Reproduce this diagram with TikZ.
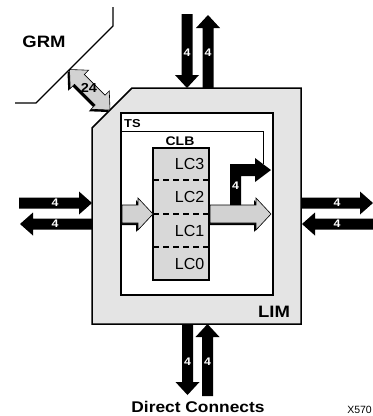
\documentclass[tikz,border=0pt]{standalone}
\usepackage{fontspec}
\setmainfont{Liberation Sans}[BoldFeatures={FakeStretch=1.12}]
\usetikzlibrary{calc}
\definecolor{limfill}{HTML}{E4E4E4}
\definecolor{clbfill}{HTML}{D8D8D8}
\definecolor{arrfill}{HTML}{D2D2D2}
\newcommand\fatarrow[6]{% style, tail, tip, shaft half, head half, head length
  \coordinate (fab) at ($(#3)!#6!(#2)$);
  \path[#1] ($(#2)!#4!90:(#3)$) -- ($(fab)!#4!90:(#3)$) -- ($(fab)!#5!90:(#3)$)
    -- (#3) -- ($(fab)!#5!-90:(#3)$) -- ($(fab)!#4!-90:(#3)$) -- ($(#2)!#4!-90:(#3)$) -- cycle;}
\newcommand\dblfatarrow[6]{% style, end A, end B, shaft half, head half, head length
  \coordinate (dfa) at ($(#2)!#6!(#3)$);
  \coordinate (dfb) at ($(#3)!#6!(#2)$);
  \path[#1] (#2) -- ($(dfa)!#5!90:(#3)$) -- ($(dfa)!#4!90:(#3)$) -- ($(dfb)!#4!-90:(#2)$)
    -- ($(dfb)!#5!-90:(#2)$) -- (#3) -- ($(dfb)!#5!90:(#2)$) -- ($(dfb)!#4!90:(#2)$)
    -- ($(dfa)!#4!-90:(#3)$) -- ($(dfa)!#5!-90:(#3)$) -- cycle;}
\tikzset{
  blackarrow/.style={fill=black},
  grayarrow/.style={fill=arrfill, draw=black, line width=0.6pt, line join=miter},
  shadowarrow/.style={fill=black, transform canvas={shift={(-2pt,-2pt)}}},
  num/.style={text=white, font=\bfseries\fontsize{11}{11}\selectfont, inner sep=0pt},
  lclabel/.style={font=\fontsize{16}{16}\selectfont, anchor=east, inner sep=0pt},
  boldlabel/.style={font=\bfseries\fontsize{#1}{#1}\selectfont, inner sep=0pt},
}
\begin{document}
\begin{tikzpicture}[x=1pt,y=-1pt]
\useasboundingbox (0,0) rectangle (373,416);
% GRM boundary
\draw[line width=1.4pt] (15,103) -- (36,103) -- (113,26) -- (113,7);
\node[boldlabel=16.5] (grm) at (44,42) {GRM};
% LIM
\draw[fill=limfill, line width=1.5pt] (132,88) -- (301,88) -- (301,324) -- (92,324) -- (92,128) -- cycle;
\node[boldlabel=16.5] (lim) at (274,312) {LIM};
% TS
\draw[fill=white, line width=1.4pt] (121,113) rectangle (273,295);
\node[boldlabel=11.5, anchor=west] (ts) at (124,124) {TS};
\draw[line width=0.7pt] (121,131) -- (263,131) -- (263,164);
% CLB
\node[boldlabel=12.5] (clblabel) at (180,141) {CLB};
\draw[fill=clbfill, line width=1.2pt] (153,148) rectangle (209,280);
\foreach \y in {180,214,247} \draw[line width=1.6pt, dash pattern=on 6pt off 4pt] (153,\y) -- (209,\y);
\node[lclabel] (lc3) at (204.5,164) {LC3};
\node[lclabel] (lc2) at (204.5,197) {LC2};
\node[lclabel] (lc1) at (204.5,231) {LC1};
\node[lclabel] (lc0) at (204.5,264) {LC0};
% gray arrows in TS
\coordinate (inA) at (122,214);
\coordinate (inB) at (153,214);
\coordinate (outA) at (210,214);
\coordinate (outB) at (271,214);
\fatarrow{shadowarrow}{inA}{inB}{9pt}{16pt}{15pt}
\fatarrow{grayarrow}{inA}{inB}{9pt}{16pt}{15pt}
\fatarrow{shadowarrow}{outA}{outB}{9pt}{16pt}{15pt}
\fatarrow{grayarrow}{outA}{outB}{9pt}{16pt}{15pt}
% black bent arrow
\fill[black] (230,205) -- (230,164) -- (255,164) -- (255,158) -- (271,170) -- (255,182) -- (255,176) -- (241,176) -- (241,205) -- cycle;
\node[num] (n9) at (235.5,186) {4};
% top arrows
\coordinate (t1a) at (187,14);
\coordinate (t1b) at (187,88);
\coordinate (t2a) at (208,88);
\coordinate (t2b) at (208,15);
\fatarrow{blackarrow}{t1a}{t1b}{5.5pt}{12pt}{13pt}
\fatarrow{blackarrow}{t2a}{t2b}{5.5pt}{12pt}{13pt}
\node[num] (n1) at (187,53) {4};
\node[num] (n2) at (208,53) {4};
% bottom arrows
\coordinate (b1a) at (187.5,324);
\coordinate (b1b) at (187.5,395);
\coordinate (b2a) at (207.5,396);
\coordinate (b2b) at (207.5,324);
\fatarrow{blackarrow}{b1a}{b1b}{5.5pt}{12pt}{13pt}
\fatarrow{blackarrow}{b2a}{b2b}{5.5pt}{12pt}{13pt}
\node[num] (n3) at (187.5,362) {4};
\node[num] (n4) at (207.5,362) {4};
% left arrows
\coordinate (l1a) at (19,203);
\coordinate (l1b) at (92,203);
\coordinate (l2a) at (92,224);
\coordinate (l2b) at (20,224);
\fatarrow{blackarrow}{l1a}{l1b}{5.5pt}{11.5pt}{13pt}
\fatarrow{blackarrow}{l2a}{l2b}{5.5pt}{11.5pt}{13pt}
\node[num] (n5) at (55,203) {4};
\node[num] (n6) at (55,224) {4};
% right arrows
\coordinate (r1a) at (302,203);
\coordinate (r1b) at (373,203);
\coordinate (r2a) at (373,224);
\coordinate (r2b) at (302,224);
\fatarrow{blackarrow}{r1a}{r1b}{5.5pt}{11.5pt}{13pt}
\fatarrow{blackarrow}{r2a}{r2b}{5.5pt}{11.5pt}{13pt}
\node[num] (n7) at (337,203) {4};
\node[num] (n8) at (337,224) {4};
% GRM <-> LIM double arrow
\coordinate (gA) at (69.5,69.5);
\coordinate (gB) at (110,110);
\dblfatarrow{shadowarrow}{gA}{gB}{7pt}{13pt}{14pt}
\dblfatarrow{grayarrow}{gA}{gB}{7pt}{13pt}{14pt}
\node[boldlabel=13] (n24) at (89,88) {24};
% captions
\node[boldlabel=15.5] (dc) at (198,407) {Direct Connects};
\node[font=\fontsize{10.5}{10.5}\selectfont, inner sep=0pt, anchor=east] (x570) at (372,410) {X570};
\end{tikzpicture}
\end{document}
